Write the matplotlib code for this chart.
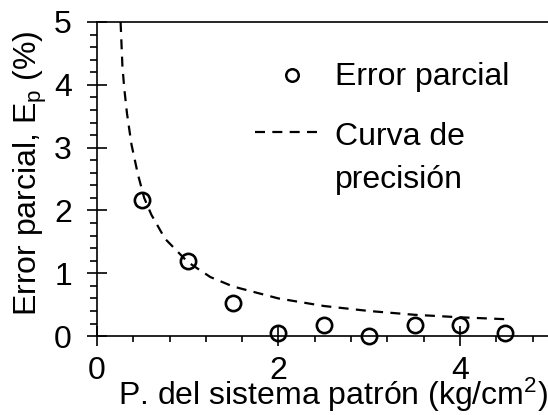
import matplotlib
matplotlib.use('Agg')
import matplotlib.pyplot as plt
from matplotlib.ticker import MultipleLocator

plt.rcParams['font.family'] = ['Liberation Sans', 'DejaVu Sans']
plt.rcParams['mathtext.fontset'] = 'custom'
plt.rcParams['mathtext.rm'] = 'Liberation Sans'
plt.rcParams['mathtext.it'] = 'Liberation Sans'

# puntos medidos (error parcial)
presion = [0.5, 1.0, 1.5, 2.0, 2.5, 3.0, 3.5, 4.0, 4.5]
error_parcial = [2.17, 1.19, 0.52, 0.05, 0.17, 0.0, 0.17, 0.17, 0.05]

# curva de precision
curva_x = [0.26, 0.28, 0.30, 0.33, 0.38, 0.45, 0.52, 0.60, 0.75, 1.0,
           1.25, 1.5, 2.0, 2.5, 3.0, 3.5, 4.0, 4.5]
curva_y = [5.0, 4.3, 3.95, 3.55, 3.05, 2.58, 2.2, 1.93, 1.55, 1.18,
           0.94, 0.79, 0.60, 0.48, 0.40, 0.34, 0.30, 0.27]

fig = plt.figure(figsize=(5.48, 4.15), dpi=100)
ax = fig.add_axes([0.177, 0.190, 0.828, 0.757])

ax.plot(curva_x, curva_y, color='black', lw=1.6, dashes=(4.5, 3.3))
ax.plot(presion, error_parcial, 'o', ms=11, mfc='none', mec='black', mew=1.9,
        clip_on=False)

ax.set_xlim(0, 5)
ax.set_ylim(0, 5)
ax.xaxis.set_major_locator(MultipleLocator(2))
ax.xaxis.set_minor_locator(MultipleLocator(0.4))
ax.yaxis.set_major_locator(MultipleLocator(1))
ax.yaxis.set_minor_locator(MultipleLocator(0.2))

ax.spines['right'].set_visible(False)
for s in ['left', 'bottom', 'top']:
    ax.spines[s].set_linewidth(1.2)

ax.tick_params(axis='x', which='major', direction='inout', length=15, width=1.2,
               labelsize=23, pad=7)
ax.tick_params(axis='x', which='minor', direction='out', length=4.5, width=1.2)
ax.tick_params(axis='y', which='major', direction='inout', length=14, width=1.2,
               labelsize=23, pad=11)
ax.tick_params(axis='y', which='minor', direction='out', length=5, width=1.2)

ax.set_xlabel('P. del sistema patrón (kg/cm$^2$)', fontsize=23)
ax.xaxis.set_label_coords(0.52, -0.220)
ax.xaxis.label.set_va('baseline')
ax.set_ylabel('Error parcial, E$_\\mathrm{p}$ (%)', fontsize=23)
ax.yaxis.set_label_coords(-0.105, 0.52)

# leyenda manual
ax.plot([0.430], [0.831], 'o', ms=9, mfc='none', mec='black', mew=1.8,
        transform=ax.transAxes)
ax.text(0.524, 0.799, 'Error parcial', fontsize=23, transform=ax.transAxes,
        va='baseline')
ax.plot([0.348, 0.487], [0.650, 0.650], color='black', lw=1.6,
        dashes=(4.5, 3.3), transform=ax.transAxes)
ax.text(0.524, 0.608, 'Curva de', fontsize=23, transform=ax.transAxes,
        va='baseline')
ax.text(0.524, 0.471, 'precisión', fontsize=23, transform=ax.transAxes,
        va='baseline')

fig.savefig('out.png', dpi=100)
